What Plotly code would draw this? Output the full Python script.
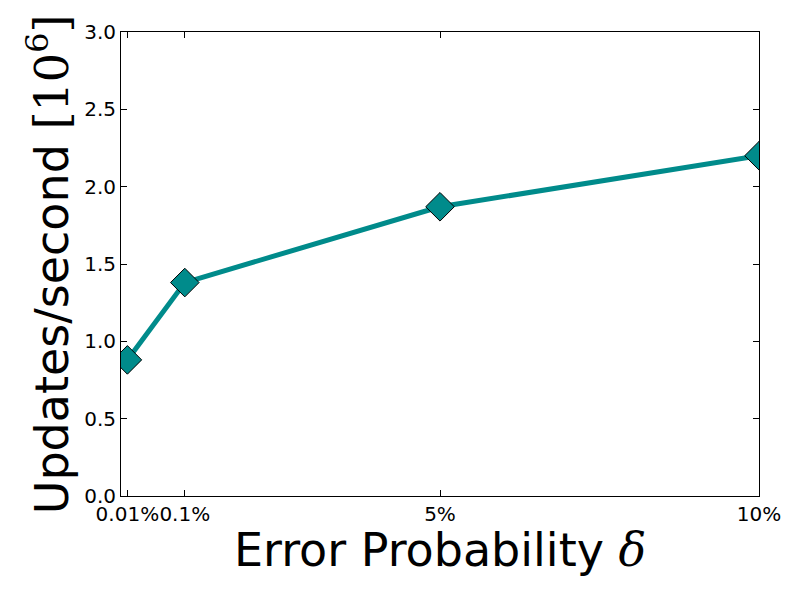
import plotly.graph_objects as go

x_pos = [0.1, 1, 5, 10]
x_labels = ["0.01%", "0.1%", "5%", "10%"]
updates = [0.88, 1.38, 1.87, 2.20]
y_ticks = [0.0, 0.5, 1.0, 1.5, 2.0, 2.5, 3.0]

fig = go.Figure()
fig.add_trace(go.Scatter(
    x=x_pos, y=updates, mode="lines+markers",
    line=dict(color="#008B8B", width=5),
    marker=dict(symbol="diamond", size=22, color="#008B8B", line=dict(color="black", width=1)),
    showlegend=False,
))

axis_common = dict(
    showline=True, linecolor="black", linewidth=1, mirror="ticks",
    ticks="inside", ticklen=6, tickcolor="black", showgrid=False, zeroline=False,
    tickfont=dict(family="DejaVu Sans", size=20, color="black"), tickangle=0,
)
fig.update_xaxes(range=[0, 10], tickvals=x_pos, ticktext=x_labels, **axis_common)
fig.update_yaxes(range=[0, 3.0], tickvals=y_ticks, ticktext=[f"{v:.1f}" for v in y_ticks], **axis_common)

fig.add_annotation(
    text="Error Probability <i><span style='font-family:DejaVu Serif'>δ</span></i>",
    xref="paper", yref="paper", x=0.5, y=-0.116, xanchor="center", yanchor="middle",
    showarrow=False, font=dict(family="DejaVu Sans", size=46, color="black"),
)
fig.add_annotation(
    text="Updates/second <span style='font-family:DejaVu Serif'>[10<sup>6</sup>]</span>",
    xref="paper", yref="paper", x=-0.114, y=0.5, xanchor="center", yanchor="middle",
    textangle=-90, showarrow=False, font=dict(family="DejaVu Sans", size=46, color="black"),
)

fig.update_layout(
    width=800, height=600,
    margin=dict(l=113, r=49, t=21, b=112),
    plot_bgcolor="white", paper_bgcolor="white",
)
fig.write_html("out.html")
